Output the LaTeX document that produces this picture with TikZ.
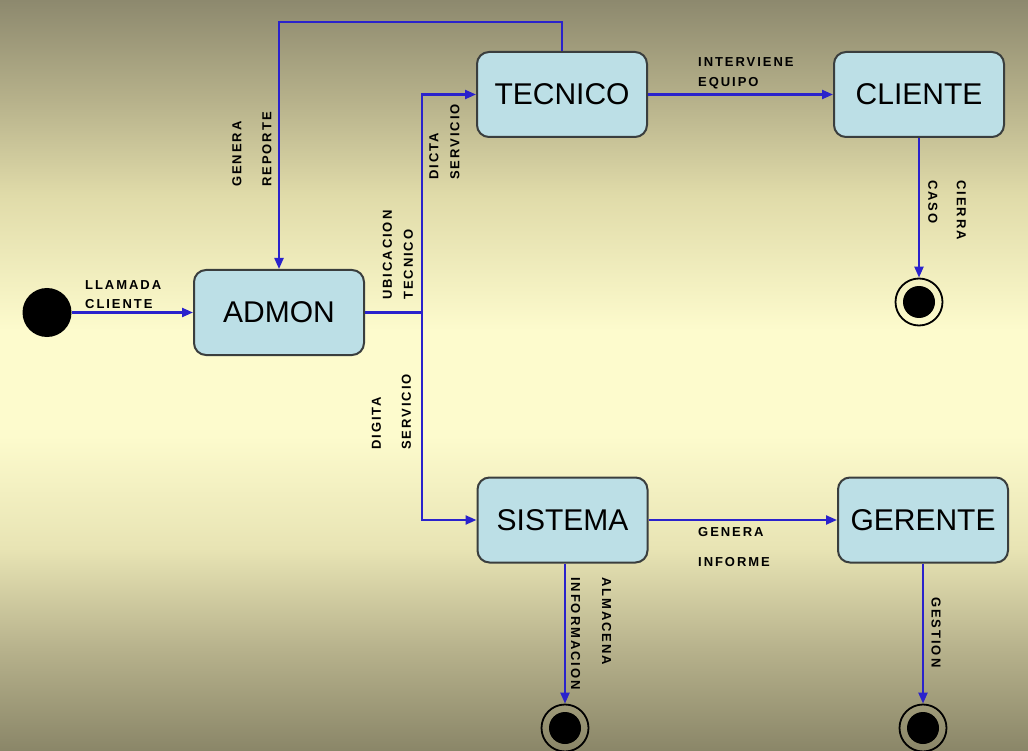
\documentclass[tikz,border=0pt]{standalone}
\usepackage{fontspec}
\setmainfont{Liberation Sans}
\newfontfamily\lblfont[LetterSpace=15]{Liberation Sans}
\usetikzlibrary{arrows.meta}
\definecolor{bgtop}{HTML}{8D896E}
\definecolor{bgc4}{HTML}{B4AF89}
\definecolor{bgc3}{HTML}{E0DBA9}
\definecolor{bglight}{HTML}{FDFBCD}
\definecolor{bgc2}{HTML}{E8E4B4}
\definecolor{bgc1}{HTML}{B7B28C}
\definecolor{bgbot}{HTML}{8A8668}
\definecolor{boxblue}{HTML}{BCDFE6}
\definecolor{boxedge}{HTML}{3A3E3E}
\definecolor{connblue}{HTML}{2A22CC}
\pgfdeclareverticalshading{bgshade}{100bp}{color(0bp)=(bgbot); color(25bp)=(bgbot); color(31.8bp)=(bgc1); color(38.5bp)=(bgc2); color(46bp)=(bglight); color(53bp)=(bglight); color(62bp)=(bgc3); color(68.7bp)=(bgc4); color(75bp)=(bgtop); color(100bp)=(bgtop)}
\newcommand\lsz[1]{\fontsize{13pt}{#1}\selectfont}
\begin{document}
\begin{tikzpicture}[x=1pt,y=-1pt,
  state/.style={draw=boxedge, line width=2pt, fill=boxblue, rounded corners=12pt,
    minimum width=170pt, minimum height=85pt, inner sep=0pt,
    font=\fontsize{30pt}{36pt}\selectfont},
  startnode/.style={circle, fill=black, minimum size=49pt, inner sep=0pt},
  endnode/.style={circle, draw=black, line width=1.8pt, minimum size=47pt, inner sep=0pt,
    path picture={\fill[black] (path picture bounding box.center) circle (16pt);}},
  conn/.style={draw=connblue, line width=2.2pt, -{Triangle[length=11pt,width=9pt]}},
  plain/.style={draw=connblue, line width=2.2pt},
  lbl/.style={inner sep=0pt, align=left, text=black}
]
\useasboundingbox (0,0) rectangle (1028,751);
\shade[shading=bgshade] (0,0) rectangle (1028,751);

% states
\node[state] (admon) at (279,312.5) {ADMON};
\node[state] (tecnico) at (562,94.5) {TECNICO};
\node[state] (cliente) at (919,94.5) {CLIENTE};
\node[state] (sistema) at (562.5,520) {SISTEMA};
\node[state] (gerente) at (923,520) {GERENTE};

% pseudo states
\node[startnode] (ini) at (47,312.5) {};
\node[endnode] (fin1) at (919,302) {};
\node[endnode] (fin2) at (565,728) {};
\node[endnode] (fin3) at (923,728) {};

% junction and routing coordinates
\coordinate (j) at (422,312.5);
\coordinate (fb) at (0,22);

% connectors
\draw[conn] (ini) -- (admon);
\draw[plain] (admon.east) -- (j);
\draw[conn] (j) |- (tecnico.west);
\draw[conn] (j) |- (sistema.west);
\draw[conn] (tecnico.north) -- (tecnico.north |- fb) -| (admon.north);
\draw[conn] (tecnico) -- (cliente);
\draw[conn] (cliente) -- (fin1);
\draw[conn] (sistema) -- (gerente);
\draw[conn] (sistema.south -| fin2) -- (fin2);
\draw[conn] (gerente) -- (fin3);

% labels
\node[lbl, font=\lblfont\bfseries\lsz{19pt}, anchor=west] (lllamada) at (85,294.5) {LLAMADA\\CLIENTE};
\node[lbl, font=\lblfont\bfseries\lsz{20pt}, anchor=west] (linterv) at (698,73) {INTERVIENE\\EQUIPO};
\node[lbl, font=\lblfont\bfseries\lsz{30pt}, anchor=west] (linforme) at (698,547) {GENERA\\INFORME};
\node[lbl, font=\lblfont\bfseries\lsz{30pt}, anchor=west, rotate=90] (lreporte) at (252,187) {GENERA\\REPORTE};
\node[lbl, font=\lblfont\bfseries\lsz{21pt}, anchor=west, rotate=90] (lubic) at (398,300) {UBICACION\\TECNICO};
\node[lbl, font=\lblfont\bfseries\lsz{21pt}, anchor=west, rotate=90] (ldicta) at (444.5,180) {DICTA\\SERVICIO};
\node[lbl, font=\lblfont\bfseries\lsz{30pt}, anchor=west, rotate=90] (ldigita) at (391.5,450) {DIGITA\\SERVICIO};
\node[lbl, font=\lblfont\bfseries\lsz{28.5pt}, anchor=west, rotate=-90] (lcierra) at (947,180) {CIERRA\\CASO};
\node[lbl, font=\lblfont\bfseries\lsz{31pt}, anchor=west, rotate=-90] (lalmacena) at (591,577) {ALMACENA\\INFORMACION};
\node[lbl, font=\lblfont\bfseries\lsz{19pt}, anchor=west, rotate=-90] (lgestion) at (936,597) {GESTION};
\end{tikzpicture}
\end{document}
